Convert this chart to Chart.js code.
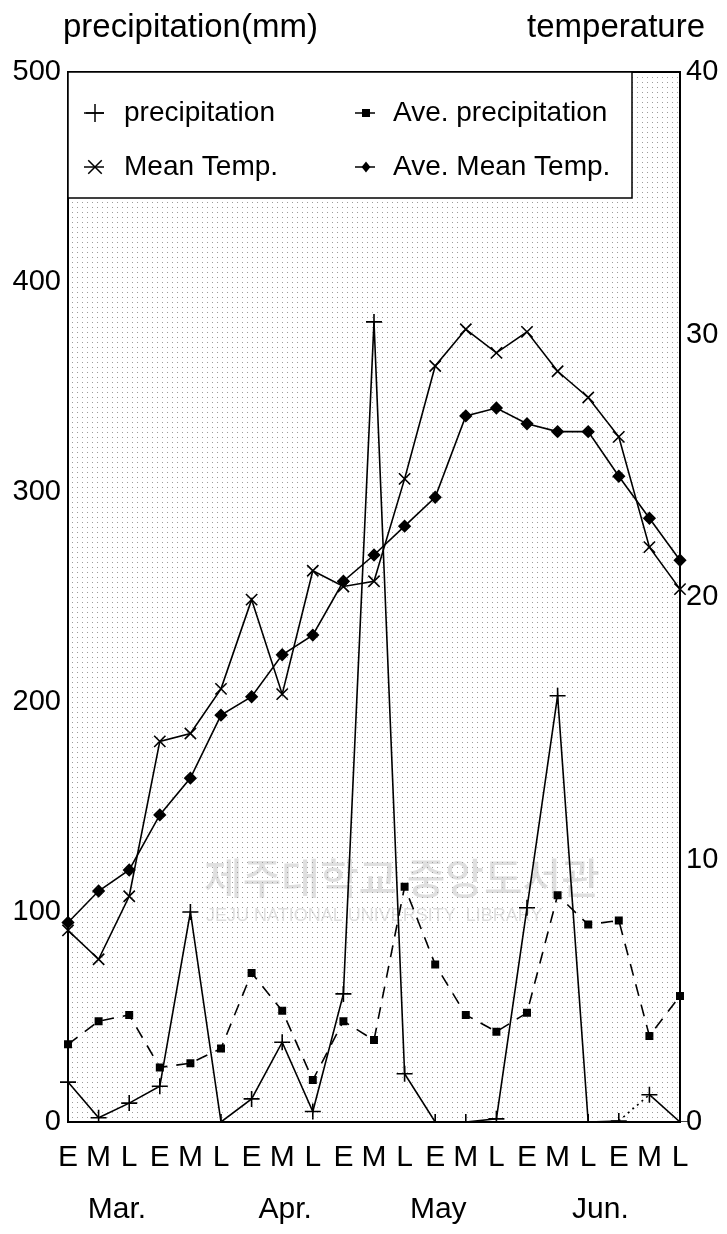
<!DOCTYPE html>
<html>
<head>
<meta charset="utf-8">
<script src="https://cdn.jsdelivr.net/npm/chart.js"></script>
<style>
  html, body { margin: 0; padding: 0; background: #fff; }
  #wrap { width: 727px; height: 1234px; }
</style>
</head>
<body>
<div id="wrap"><canvas id="c" width="727" height="1234"></canvas></div>
<script>
const categories = ['E','M','L','E','M','L','E','M','L','E','M','L','E','M','L','E','M','L','E','M','L'];
const monthLabels = ['Mar.','Apr.','May','Jun.'];
const precipitation    = [19, 2, 9, 17, 100, 0, 11, 38, 5, 61, 381, 23, 0, 0, 1.5, 102, 203, 0, 0.5, 13, 0];
const avePrecipitation = [37, 48, 51, 26, 28, 35, 71, 53, 20, 48, 39, 112, 75, 51, 43, 52, 108, 94, 96, 41, 60];
const meanTemp         = [7.3, 6.2, 8.6, 14.5, 14.8, 16.5, 19.9, 16.3, 21.0, 20.4, 20.6, 24.5, 28.8, 30.2, 29.3, 30.1, 28.6, 27.6, 26.1, 21.9, 20.3];
const aveMeanTemp      = [7.6, 8.8, 9.6, 11.7, 13.1, 15.5, 16.2, 17.8, 18.55, 20.6, 21.6, 22.7, 23.8, 26.9, 27.2, 26.6, 26.3, 26.3, 24.6, 23.0, 21.4];
const precipTicks = [0, 100, 200, 300, 400, 500];
const tempTicks = [0, 10, 20, 30, 40];

const FONT = '"Liberation Sans", Arial, Helvetica, sans-serif';
const monthCenters = [1.6, 7.1, 12.1, 17.4];

const dotCanvas = (() => {
  const c = document.createElement('canvas'); c.width = 5; c.height = 5;
  const g = c.getContext('2d'); g.fillStyle = '#9c9c9c'; g.fillRect(2, 2, 1, 1);
  return c;
})();

function drawMarker(ctx, style, x, y, r) {
  ctx.save();
  ctx.strokeStyle = '#000'; ctx.fillStyle = '#000'; ctx.lineWidth = 1.5;
  ctx.beginPath();
  if (style === 'cross') {
    ctx.moveTo(x - r, y); ctx.lineTo(x + r, y); ctx.moveTo(x, y - r); ctx.lineTo(x, y + r); ctx.stroke();
  } else if (style === 'crossRot') {
    const d = r * 0.75;
    ctx.moveTo(x - d, y - d); ctx.lineTo(x + d, y + d); ctx.moveTo(x + d, y - d); ctx.lineTo(x - d, y + d); ctx.stroke();
  } else if (style === 'rect') {
    ctx.fillRect(x - r, y - r, 2 * r, 2 * r);
  } else if (style === 'rectRot') {
    ctx.moveTo(x, y - r); ctx.lineTo(x + r * 0.8, y); ctx.lineTo(x, y + r); ctx.lineTo(x - r * 0.8, y); ctx.closePath(); ctx.fill();
  }
  ctx.restore();
}

const decorPlugin = {
  id: 'decor',
  beforeDraw(chart) {
    const { ctx, chartArea: a } = chart;
    ctx.save();
    ctx.fillStyle = '#fff';
    ctx.fillRect(0, 0, chart.width, chart.height);
    ctx.fillStyle = ctx.createPattern(dotCanvas, 'repeat');
    ctx.fillRect(a.left, a.top, a.right - a.left, a.bottom - a.top);
    // faint library watermark
    ctx.fillStyle = 'rgba(150,150,150,0.30)';
    ctx.font = '500 42px "Noto Sans CJK KR", sans-serif';
    ctx.textBaseline = 'middle';
    ctx.fillText('제주대학교 중앙도서관', 204, 878);
    ctx.font = '18px ' + FONT;
    ctx.fillText('JEJU NATIONAL UNIVERSITY  LIBRARY', 206, 916);
    ctx.restore();
  },
  afterDatasetsDraw(chart) {
    const { ctx, chartArea: a } = chart;
    ctx.save();
    ctx.strokeStyle = '#000'; ctx.lineWidth = 2;
    ctx.strokeRect(a.left, a.top, a.right - a.left, a.bottom - a.top);
    ctx.restore();
  },
  afterDraw(chart) {
    const { ctx, chartArea: a } = chart;
    const xs = chart.scales.x;
    ctx.save();
    ctx.fillStyle = '#000';
    // axis titles
    ctx.font = '33px ' + FONT;
    ctx.textBaseline = 'middle';
    ctx.textAlign = 'left';
    ctx.fillText('precipitation(mm)', 63, 28);
    ctx.textAlign = 'right';
    ctx.fillText('temperature', 705, 28);
    // month labels
    ctx.font = '30px ' + FONT;
    ctx.textAlign = 'center';
    monthLabels.forEach((m, i) => ctx.fillText(m, xs.getPixelForValue(monthCenters[i]), 1210));
    // legend box
    const bx = a.left, by = a.top, bw = 632 - a.left, bh = 198 - a.top;
    ctx.fillStyle = '#fff';
    ctx.fillRect(bx, by, bw, bh);
    ctx.strokeStyle = '#000'; ctx.lineWidth = 1.5;
    ctx.strokeRect(bx, by, bw, bh);
    ctx.fillStyle = '#000';
    ctx.font = '28px ' + FONT;
    ctx.textAlign = 'left';
    const items = [
      { ds: 0, x: 95, y: 113, tx: 124 },
      { ds: 1, x: 366, y: 113, tx: 393 },
      { ds: 2, x: 95, y: 167, tx: 124 },
      { ds: 3, x: 366, y: 167, tx: 393 }
    ];
    items.forEach(it => {
      const d = chart.data.datasets[it.ds];
      ctx.beginPath();
      ctx.lineWidth = 1.5;
      ctx.moveTo(it.x - 11, it.y); ctx.lineTo(it.x + 9, it.y); ctx.stroke();
      drawMarker(ctx, d.pointStyle, it.x, it.y, d.pointStyle === 'rect' ? 4 : (d.pointStyle === 'rectRot' ? 5.5 : 9));
      ctx.fillText(d.label, it.tx, it.y);
    });
    ctx.restore();
  }
};

const lineCommon = {
  borderColor: '#000',
  backgroundColor: '#000',
  pointBorderColor: '#000',
  pointBackgroundColor: '#000',
  borderWidth: 1.6,
  pointBorderWidth: 1.6,
  tension: 0,
  fill: false
};

new Chart(document.getElementById('c'), {
  type: 'line',
  data: {
    labels: categories,
    datasets: [
      Object.assign({}, lineCommon, {
        label: 'precipitation', data: precipitation, yAxisID: 'y',
        pointStyle: 'cross', pointRadius: 8,
        segment: { borderDash: c => c.p0DataIndex === 18 ? [2, 4] : undefined }
      }),
      Object.assign({}, lineCommon, {
        label: 'Ave. precipitation', data: avePrecipitation, yAxisID: 'y',
        pointStyle: 'rect', pointRadius: 4.5, borderDash: [12, 9]
      }),
      Object.assign({}, lineCommon, {
        label: 'Mean Temp.', data: meanTemp, yAxisID: 'y1',
        pointStyle: 'crossRot', pointRadius: 8
      }),
      Object.assign({}, lineCommon, {
        label: 'Ave. Mean Temp.', data: aveMeanTemp, yAxisID: 'y1',
        pointStyle: 'rectRot', pointRadius: 5.5
      })
    ]
  },
  options: {
    responsive: false,
    animation: false,
    events: [],
    layout: { padding: { top: 72, left: 0, right: 0, bottom: 0 } },
    plugins: { legend: { display: false }, tooltip: { enabled: false }, title: { display: false } },
    scales: {
      x: {
        type: 'category', offset: false,
        grid: { display: false, drawTicks: false }, border: { display: false },
        ticks: { color: '#000', font: { family: FONT, size: 30 }, padding: 18, maxRotation: 0, autoSkip: false },
        afterFit: s => { s.height = 112; }
      },
      y: {
        position: 'left', min: 0, max: 500,
        afterBuildTicks: s => { s.ticks = precipTicks.map(v => ({ value: v })); },
        grid: { display: false, drawTicks: false }, border: { display: false },
        ticks: { color: '#000', font: { family: FONT, size: 29 }, padding: 7 },
        afterFit: s => { s.width = 68; }
      },
      y1: {
        position: 'right', min: 0, max: 40,
        afterBuildTicks: s => { s.ticks = tempTicks.map(v => ({ value: v })); },
        grid: { display: false, drawTicks: false }, border: { display: false },
        ticks: { color: '#000', font: { family: FONT, size: 29 }, padding: 6 },
        afterFit: s => { s.width = 47; }
      }
    }
  },
  plugins: [decorPlugin]
});
</script>
</body>
</html>
